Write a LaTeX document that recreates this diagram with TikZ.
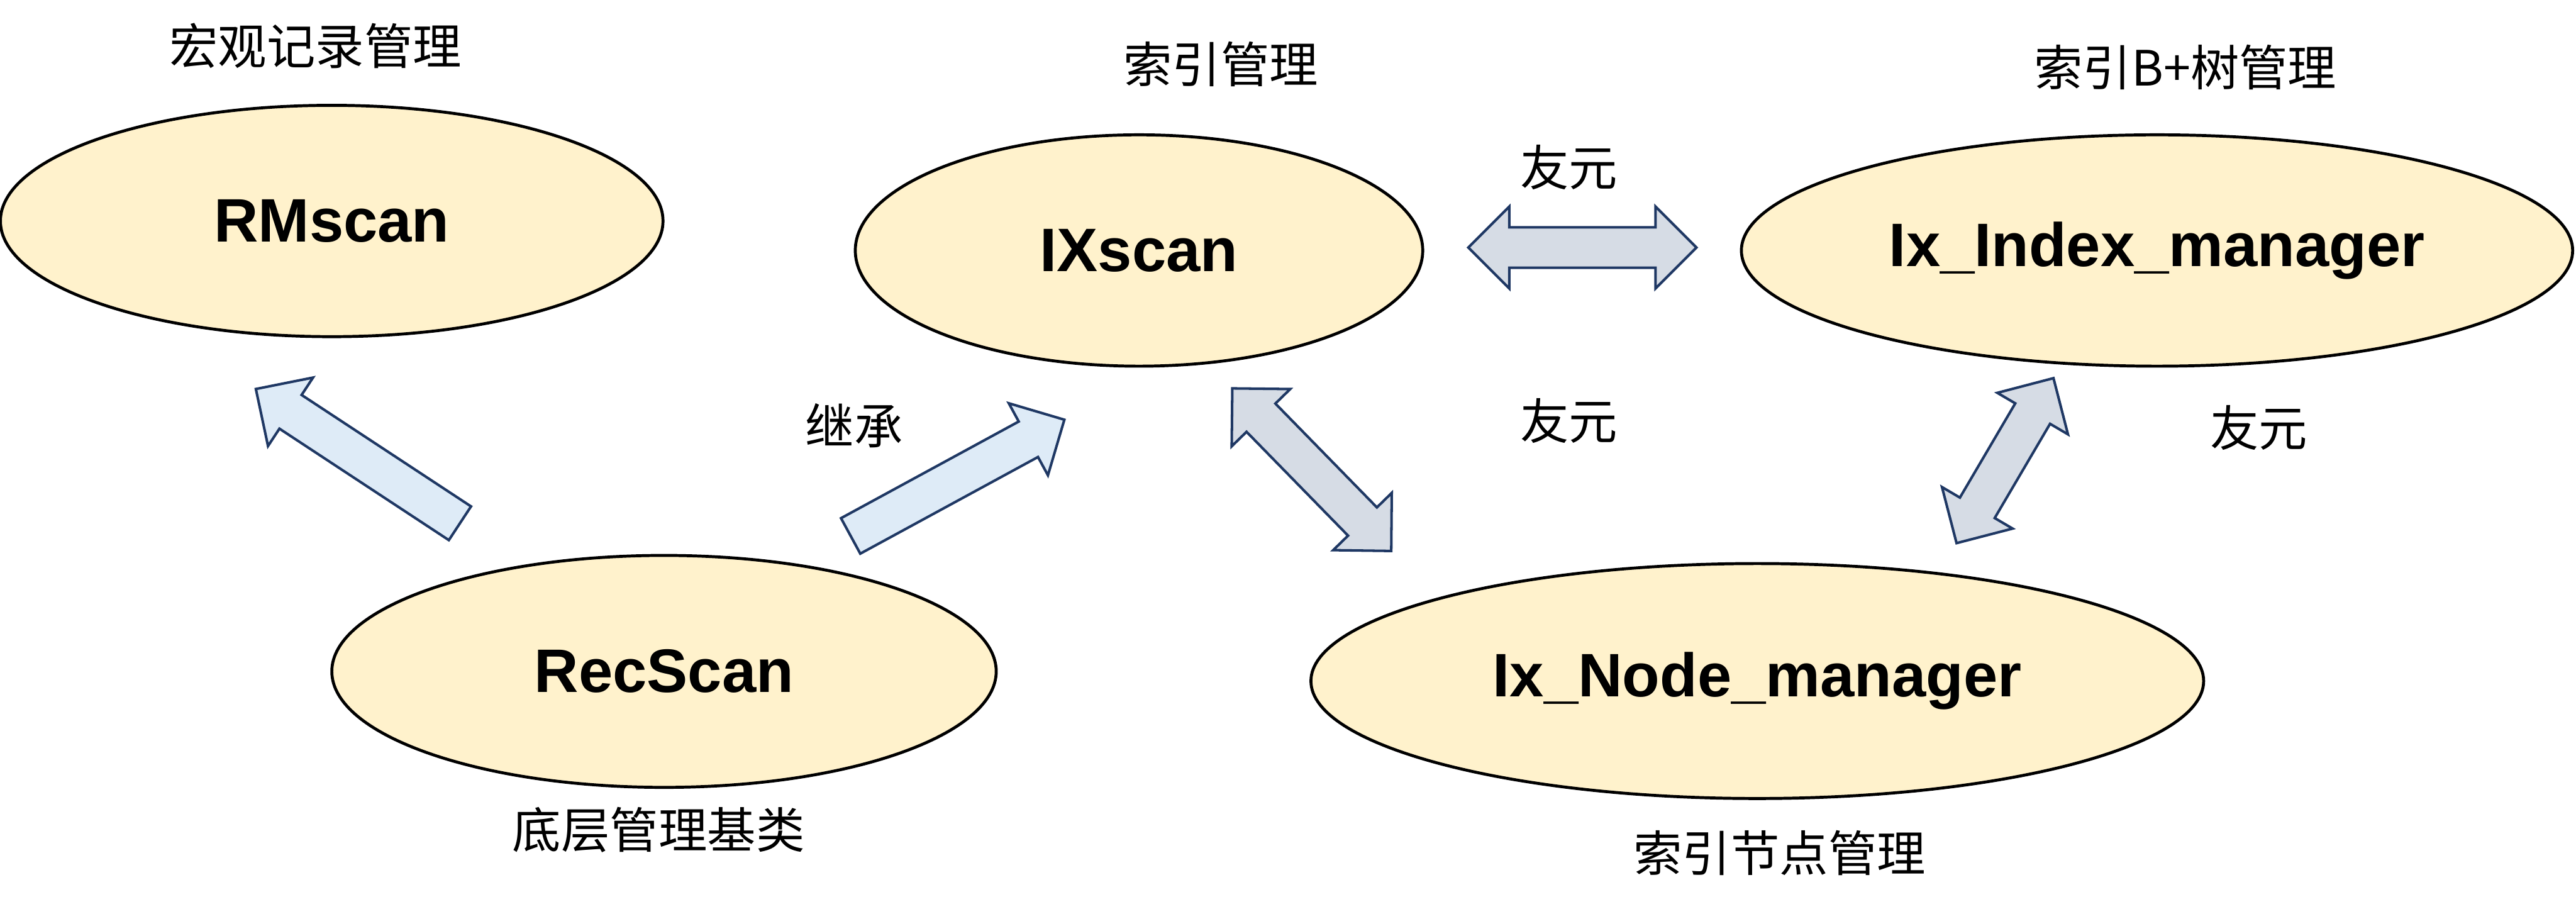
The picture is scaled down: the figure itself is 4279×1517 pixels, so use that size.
\documentclass[tikz,border=0pt]{standalone}
\usepackage{fontspec}
\newfontfamily\cjk{Noto Sans CJK SC}
\newfontfamily\clsfont{Liberation Sans}
\usetikzlibrary{shapes.geometric,calc}
\definecolor{ellfill}{HTML}{FFF2CC}
\definecolor{arrblue}{HTML}{DEEBF7}
\definecolor{arrgray}{HTML}{D6DCE5}
\definecolor{arrline}{HTML}{1F3864}
\def\barHS{0.335cm}
\def\barHH{0.68cm}
\def\barHL{0.68cm}
\newcommand\singleblock[3][]{%
  \draw[blockarr,#1] let \p1=(#2), \p2=(#3), \n1={atan2(\y2-\y1,\x2-\x1)}, \n2={veclen(\x2-\x1,\y2-\y1)} in
    ($(\p1)+(\n1+90:\barHS)$)
    -- ($(\p1)+(\n1:{\n2-\barHL})+(\n1+90:\barHS)$)
    -- ($(\p1)+(\n1:{\n2-\barHL})+(\n1+90:\barHH)$)
    -- (\p2)
    -- ($(\p1)+(\n1:{\n2-\barHL})+(\n1-90:\barHH)$)
    -- ($(\p1)+(\n1:{\n2-\barHL})+(\n1-90:\barHS)$)
    -- ($(\p1)+(\n1-90:\barHS)$) -- cycle;}
\newcommand\doubleblock[3][]{%
  \draw[blockarr,#1] let \p1=(#2), \p2=(#3), \n1={atan2(\y2-\y1,\x2-\x1)}, \n2={veclen(\x2-\x1,\y2-\y1)} in
    (\p1)
    -- ($(\p1)+(\n1:\barHL)+(\n1+90:\barHH)$)
    -- ($(\p1)+(\n1:\barHL)+(\n1+90:\barHS)$)
    -- ($(\p1)+(\n1:{\n2-\barHL})+(\n1+90:\barHS)$)
    -- ($(\p1)+(\n1:{\n2-\barHL})+(\n1+90:\barHH)$)
    -- (\p2)
    -- ($(\p1)+(\n1:{\n2-\barHL})+(\n1-90:\barHH)$)
    -- ($(\p1)+(\n1:{\n2-\barHL})+(\n1-90:\barHS)$)
    -- ($(\p1)+(\n1:\barHL)+(\n1-90:\barHS)$)
    -- ($(\p1)+(\n1:\barHL)+(\n1-90:\barHH)$) -- cycle;}
\tikzset{
  cls/.style={ellipse, draw=black, line width=1.4pt, fill=ellfill, inner sep=0pt,
    font=\clsfont\bfseries\fontsize{29}{35}\selectfont},
  lbl/.style={inner sep=0pt, font=\cjk\fontsize{23}{28}\selectfont},
  blockarr/.style={draw=arrline, line width=1.2pt, line join=miter},
  inh/.style={fill=arrblue},
  frd/.style={fill=arrgray},
}
\begin{document}
\begin{tikzpicture}[x=0.01cm, y=-0.01cm]
\useasboundingbox (0,0) rectangle (4279,1517);
% classes
\node[cls, minimum width=11.0cm, minimum height=3.84cm] (rm) at (551,367) {RMscan};
\node[cls, minimum width=9.42cm, minimum height=3.84cm] (ix) at (1892,416) {IXscan};
\node[cls, minimum width=13.8cm, minimum height=3.84cm] (idx) at (3583,416) {Ix\_Index\_manager};
\node[cls, minimum width=11.03cm, minimum height=3.85cm] (rec) at (1103,1115) {RecScan};
\node[cls, minimum width=14.82cm, minimum height=3.90cm] (nd) at (2919,1131) {Ix\_Node\_manager};
% labels
\node[lbl] (lrm) at (524,76) {宏观记录管理};
\node[lbl] (lix) at (2028,106) {索引管理};
\node[lbl] (lidx) at (3630,112) {索引B+树管理};
\node[lbl] (lrec) at (1094,1378) {底层管理基类};
\node[lbl] (lnd) at (2956,1416) {索引节点管理};
\node[lbl] (linh) at (1419,707) {继承};
\node[lbl] (lf1) at (2606,278) {友元};
\node[lbl] (lf2) at (2606,699) {友元};
\node[lbl] (lf3) at (3752,710) {友元};
% arrow end points
\coordinate (a1s) at (764,869);  \coordinate (a1e) at (425,646);
\coordinate (a2s) at (1413,890); \coordinate (a2e) at (1768,697);
\coordinate (a3s) at (2047,645); \coordinate (a3e) at (2311,915);
\coordinate (a4s) at (2439,411); \coordinate (a4e) at (2818,411);
\coordinate (a5s) at (3250,902); \coordinate (a5e) at (3411,628);
\singleblock[inh]{a1s}{a1e}
\singleblock[inh]{a2s}{a2e}
\doubleblock[frd]{a3s}{a3e}
\doubleblock[frd]{a4s}{a4e}
\doubleblock[frd]{a5s}{a5e}
\end{tikzpicture}
\end{document}
